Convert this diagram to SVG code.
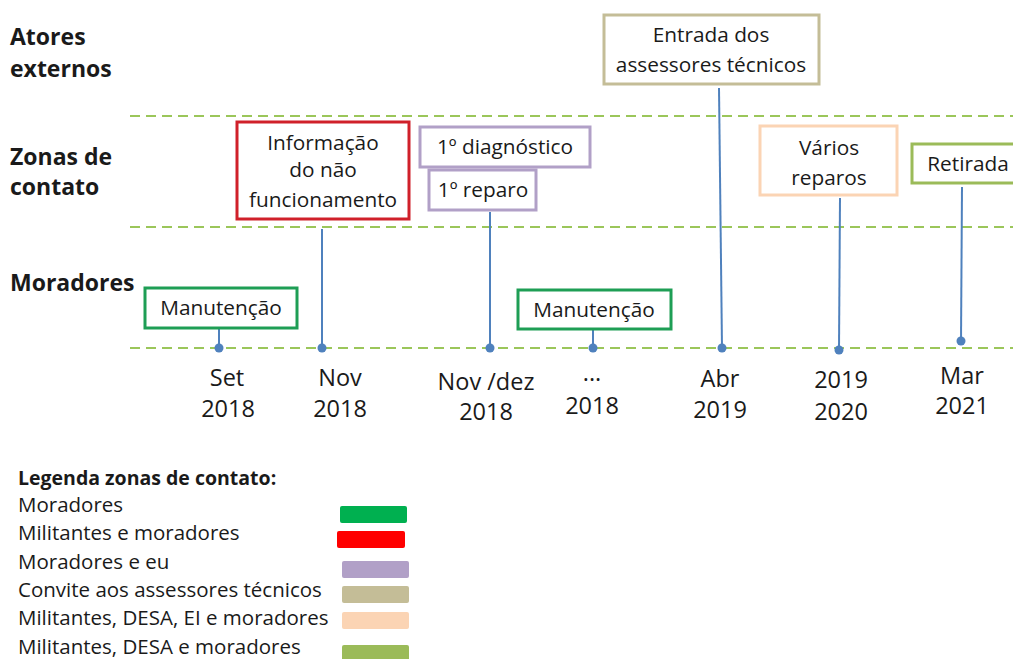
<svg xmlns="http://www.w3.org/2000/svg" width="1013" height="659" viewBox="0 0 1013 659">
<style>
text{font-family:"Open Sans","Noto Sans","Liberation Sans",sans-serif;fill:#1a1a1a}
.h{font-size:23px;font-weight:bold}
.b{font-size:20.8px;text-anchor:middle}
.d{font-size:23.5px;text-anchor:middle}
.lg{font-size:20.5px}
.dash{stroke:#9bc65a;stroke-width:2;stroke-dasharray:10 6;fill:none}
.box{fill:#fff;stroke-width:3}
.con{stroke:#4f81bd;stroke-width:2;fill:none}
.dot{fill:#4f81bd}
</style>
<rect width="1013" height="659" fill="#fff"/>
<g id="lanes">
<line class="dash" x1="130" y1="116" x2="1013" y2="116"/>
<line class="dash" x1="130" y1="227" x2="1013" y2="227"/>
<line class="dash" x1="130" y1="348" x2="1013" y2="348"/>
<text class="h" x="10" y="45">Atores</text>
<text class="h" x="10" y="77">externos</text>
<text class="h" x="10" y="165">Zonas de</text>
<text class="h" x="10" y="195">contato</text>
<text class="h" x="10" y="291">Moradores</text>
</g>
<g id="connectors">
<line class="con" x1="219" y1="328" x2="219" y2="348"/><circle class="dot" cx="219" cy="348" r="4.5"/>
<line class="con" x1="322" y1="229" x2="322" y2="348"/><circle class="dot" cx="322" cy="348" r="4.5"/>
<line class="con" x1="490" y1="212" x2="490" y2="348"/><circle class="dot" cx="490" cy="348" r="4.5"/>
<line class="con" x1="593" y1="329" x2="593" y2="348"/><circle class="dot" cx="593" cy="348" r="4.5"/>
<line class="con" x1="719" y1="88" x2="722" y2="348"/><circle class="dot" cx="722" cy="348" r="4.5"/>
<line class="con" x1="840" y1="198" x2="839" y2="350"/><circle class="dot" cx="839" cy="350" r="4.5"/>
<line class="con" x1="962" y1="187" x2="961" y2="341"/><circle class="dot" cx="961" cy="341" r="4.5"/>
</g>
<g id="n-informacao">
<rect class="box" x="237" y="122" width="172" height="97" stroke="#d0202a"/>
<text class="b" x="323" y="150">Informação</text>
<text class="b" x="323" y="177">do não</text>
<text class="b" x="323" y="207">funcionamento</text>
</g>
<g id="n-diagnostico">
<rect class="box" x="420" y="127" width="170" height="40" stroke="#b1a0c7"/>
<text class="b" x="505" y="154">1º diagnóstico</text>
</g>
<g id="n-reparo">
<rect class="box" x="429" y="170" width="107" height="40" stroke="#b1a0c7"/>
<text class="b" x="483" y="197">1º reparo</text>
</g>
<g id="n-entrada">
<rect class="box" x="604" y="15" width="215" height="69" stroke="#c4bd97"/>
<text class="b" x="711" y="42">Entrada dos</text>
<text class="b" x="711" y="72">assessores técnicos</text>
</g>
<g id="n-varios">
<rect class="box" x="760" y="126" width="137" height="69" stroke="#fbd4b4"/>
<text class="b" x="829" y="155">Vários</text>
<text class="b" x="829" y="185">reparos</text>
</g>
<g id="n-retirada">
<rect class="box" x="912" y="144" width="110" height="39" stroke="#9bbb59"/>
<text class="b" x="968" y="171">Retirada</text>
</g>
<g id="n-manut1">
<rect class="box" x="145" y="288" width="152" height="40" stroke="#1e9e55"/>
<text class="b" x="221" y="315">Manutenção</text>
</g>
<g id="n-manut2">
<rect class="box" x="518" y="290" width="153" height="39" stroke="#1e9e55"/>
<text class="b" x="594" y="317">Manutenção</text>
</g>
<g id="dates">
<text class="d" x="227" y="386">Set</text><text class="d" x="228" y="417">2018</text>
<text class="d" x="340" y="386">Nov</text><text class="d" x="340" y="417">2018</text>
<text class="d" x="486" y="390">Nov /dez</text><text class="d" x="486" y="420">2018</text>
<text class="d" x="592" y="381">...</text><text class="d" x="592" y="414">2018</text>
<text class="d" x="720" y="387">Abr</text><text class="d" x="720" y="418">2019</text>
<text class="d" x="841" y="388">2019</text><text class="d" x="841" y="420">2020</text>
<text class="d" x="962" y="384">Mar</text><text class="d" x="962" y="414">2021</text>
</g>
<g id="legend">
<text x="18" y="485" style="font-size:19.5px;font-weight:bold">Legenda zonas de contato:</text>
<text class="lg" x="18" y="512">Moradores</text>
<text class="lg" x="18" y="540">Militantes e moradores</text>
<text class="lg" x="18" y="569">Moradores e eu</text>
<text class="lg" x="18" y="597">Convite aos assessores técnicos</text>
<text class="lg" x="18" y="625">Militantes, DESA, EI e moradores</text>
<text class="lg" x="18" y="654">Militantes, DESA e moradores</text>
<rect x="340" y="506" width="67" height="17" rx="2" fill="#00b050"/>
<rect x="337" y="531" width="68" height="17" rx="2" fill="#ff0000"/>
<rect x="342" y="561" width="67" height="17" rx="2" fill="#b1a0c7"/>
<rect x="342" y="586" width="67" height="17" rx="2" fill="#c4bd97"/>
<rect x="342" y="612" width="67" height="17" rx="2" fill="#fbd4b4"/>
<rect x="342" y="645" width="67" height="17" rx="2" fill="#9bbb59"/>
</g>
</svg>
